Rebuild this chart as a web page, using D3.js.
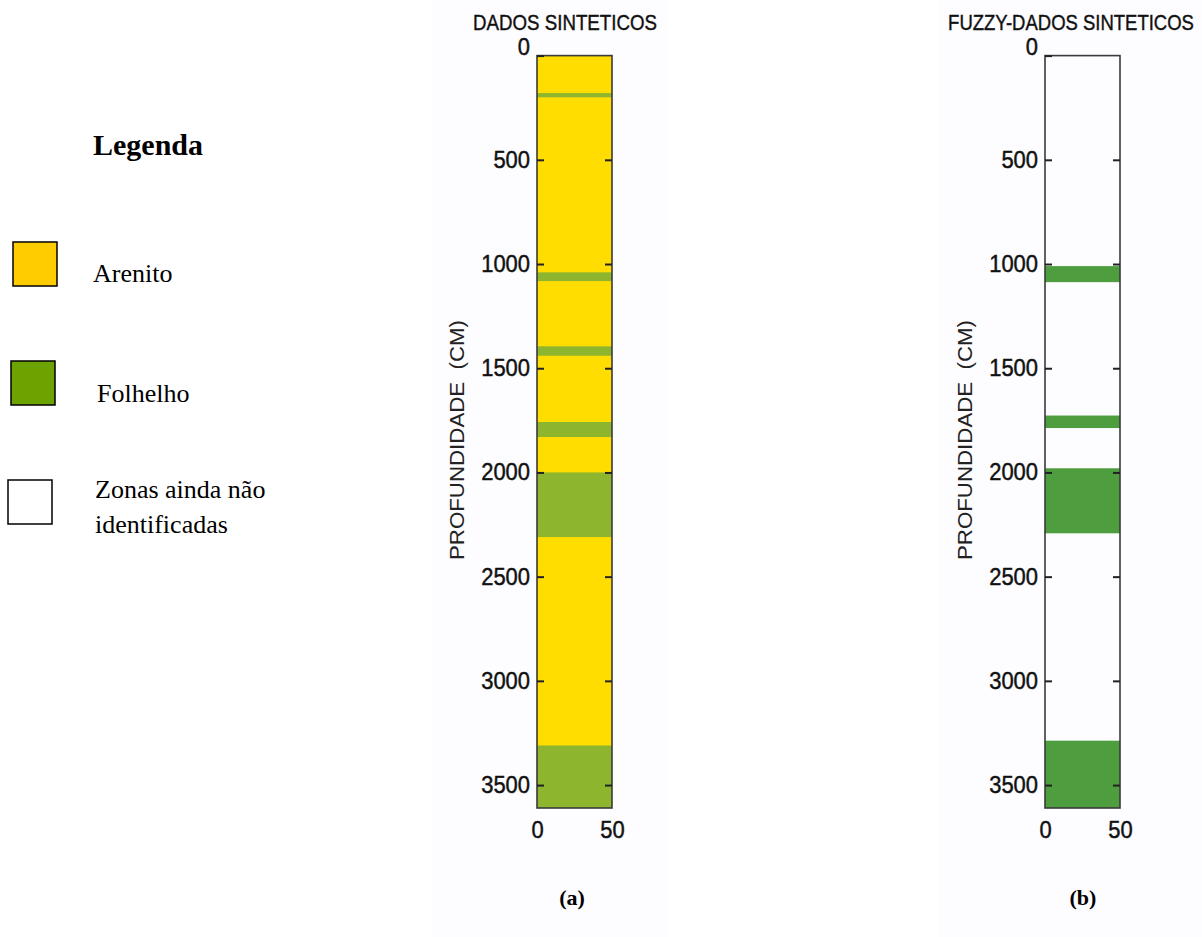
<!DOCTYPE html>
<html lang='en'>
<head>
   <meta charset='UTF-8'>
   <title>Perfis litológicos - dados sintéticos</title>
   <script src='https://d3js.org/d3.v7.min.js'></script>
   <style>
      body { margin: 0; background: #fff; }
      svg { display: block; }
   </style>
</head>
<body>
   <div id='svg-container'></div>
   <script>
      // depth ticks (cm) and width ticks
      const depthTicks = [0, 500, 1000, 1500, 2000, 2500, 3000, 3500];
      const widthTicks = [0, 50];
      const maxDepth = 3610;

      // layers: [top, bottom, rock]
      const dadosLayers = [
         [0, 3610, 'Arenito'],
         [180, 200, 'Folhelho'],
         [1040, 1082, 'Folhelho'],
         [1395, 1440, 'Folhelho'],
         [1758, 1830, 'Folhelho'],
         [2000, 2310, 'Folhelho'],
         [3310, 3610, 'Folhelho']
      ];
      const fuzzyLayers = [
         [1010, 1087, 'Folhelho'],
         [1727, 1787, 'Folhelho'],
         [1980, 2292, 'Folhelho'],
         [3287, 3610, 'Folhelho']
      ];

      const legendNames = ['Arenito', 'Folhelho', 'Zonas ainda não identificadas'];
      const legendColours = ['#FFCC00', '#6CA300', '#FFFFFF'];

      const svg = d3.select('#svg-container').append('svg').attr('width', 1202).attr('height', 937);

      // faint panel backgrounds
      svg.append('rect').attr('x', 432).attr('y', 0).attr('width', 236).attr('height', 937).attr('fill', '#fdfcfe');
      svg.append('rect').attr('x', 938).attr('y', 0).attr('width', 264).attr('height', 937).attr('fill', '#fdfcfe');

      const y = d3.scaleLinear().domain([0, maxDepth]).range([55.6, 808]);
      const sans = 'Liberation Sans, Arial, sans-serif';

      // narrow, slightly heavy text like the original plot
      const styleNum = (sel) => sel
         .attr('font-family', sans)
         .attr('font-size', 23).attr('fill', '#111')
         .attr('stroke', '#111').attr('stroke-width', 0.45)
         .each(function (d) {
            d3.select(this).attr('textLength', String(d).length * 12.2).attr('lengthAdjust', 'spacingAndGlyphs');
         });

      const drawPanel = (opts) => {
         const x = d3.scaleLinear().domain([0, 50]).range([opts.left, opts.left + 75]);
         const g = svg.append('g');
         const colours = opts.colours;

         g.selectAll('rect.layer').data(opts.layers).join('rect')
            .attr('class', 'layer')
            .attr('x', x(0))
            .attr('width', x(50) - x(0))
            .attr('y', d => y(d[0]))
            .attr('height', d => y(d[1]) - y(d[0]))
            .attr('fill', d => colours[d[2]]);

         // frame
         g.append('rect')
            .attr('x', x(0)).attr('y', y(0))
            .attr('width', x(50) - x(0)).attr('height', y(maxDepth) - y(0))
            .attr('fill', 'none').attr('stroke', '#3a3a3a').attr('stroke-width', 1.6);

         const leftAxis = g.append('g').attr('transform', `translate(${x(0)},0)`)
            .call(d3.axisLeft(y).tickValues(depthTicks).tickFormat(d3.format('d')).tickSize(-7).tickPadding(7));
         leftAxis.select('.domain').remove();
         leftAxis.selectAll('line').attr('stroke', '#222').attr('stroke-width', 2);
         leftAxis.selectAll('text').call(styleNum);
         leftAxis.selectAll('.tick').filter(d => d === 0).select('text').attr('dy', '-0.05em');

         const rightAxis = g.append('g').attr('transform', `translate(${x(50)},0)`)
            .call(d3.axisRight(y).tickValues(depthTicks.filter(d => d > 0)).tickSize(-7).tickFormat(''));
         rightAxis.select('.domain').remove();
         rightAxis.selectAll('line').attr('stroke', '#222').attr('stroke-width', 2);

         const bottomAxis = g.append('g').attr('transform', `translate(0,${y(maxDepth)})`)
            .call(d3.axisBottom(x).tickValues(widthTicks).tickSize(0).tickPadding(14));
         bottomAxis.select('.domain').remove();
         bottomAxis.selectAll('text').call(styleNum);

         // title, squeezed horizontally to the width seen in the picture
         const title = g.append('text')
            .attr('x', 0).attr('y', 0)
            .attr('text-anchor', 'middle')
            .attr('font-family', sans)
            .attr('font-size', 22).attr('fill', '#111')
            .attr('stroke', '#111').attr('stroke-width', 0.4)
            .text(opts.title);
         const natural = title.node().getComputedTextLength();
         title.attr('transform', `translate(${opts.titleX},30) scale(${opts.titleLen / natural},1)`);

         // y label
         g.append('text')
            .attr('transform', `translate(${opts.left - 73},440) rotate(-90)`)
            .attr('text-anchor', 'middle')
            .attr('font-family', sans)
            .attr('font-size', 21).attr('fill', '#222')
            .attr('textLength', 240).attr('lengthAdjust', 'spacingAndGlyphs')
            .style('white-space', 'pre')
            .text('PROFUNDIDADE  (CM)');

         // caption
         g.append('text')
            .attr('x', opts.captionX).attr('y', 905)
            .attr('text-anchor', 'middle')
            .attr('font-family', 'Liberation Serif, Times New Roman, serif')
            .attr('font-weight', 'bold').attr('font-size', 22).attr('fill', '#000')
            .text(opts.caption);
      };

      drawPanel({
         left: 537, layers: dadosLayers,
         colours: { Arenito: '#FFDD00', Folhelho: '#8DB52D' },
         title: 'DADOS SINTETICOS', titleX: 565, titleLen: 184,
         caption: '(a)', captionX: 572
      });
      drawPanel({
         left: 1045, layers: fuzzyLayers,
         colours: { Arenito: '#FFDD00', Folhelho: '#4E9E3F' },
         title: 'FUZZY-DADOS SINTETICOS', titleX: 1071, titleLen: 246,
         caption: '(b)', captionX: 1083
      });

      // legend
      const legend = svg.append('g');
      legend.append('text')
         .attr('x', 93).attr('y', 155)
         .attr('font-family', 'Liberation Serif, Times New Roman, serif')
         .attr('font-weight', 'bold').attr('font-size', 30).attr('fill', '#000')
         .text('Legenda');

      const legendBoxX = [13, 11, 8];
      const legendBoxY = [242, 361, 480];
      const legendTextX = [93, 97, 95];
      const legendTextY = [282, 402, 498];

      legendNames.forEach((name, i) => {
         legend.append('rect')
            .attr('x', legendBoxX[i]).attr('y', legendBoxY[i])
            .attr('width', 44).attr('height', 44)
            .attr('fill', legendColours[i]).attr('stroke', '#000').attr('stroke-width', 1.5);
         const t = legend.append('text')
            .attr('x', legendTextX[i]).attr('y', legendTextY[i])
            .attr('font-family', 'Liberation Serif, Times New Roman, serif')
            .attr('font-size', 26).attr('fill', '#000');
         if (i === 2) {
            t.append('tspan').attr('x', legendTextX[i]).text('Zonas ainda não');
            t.append('tspan').attr('x', legendTextX[i]).attr('dy', 35).text('identificadas');
         } else {
            t.text(name);
         }
      });
   </script>
</body>
</html>
